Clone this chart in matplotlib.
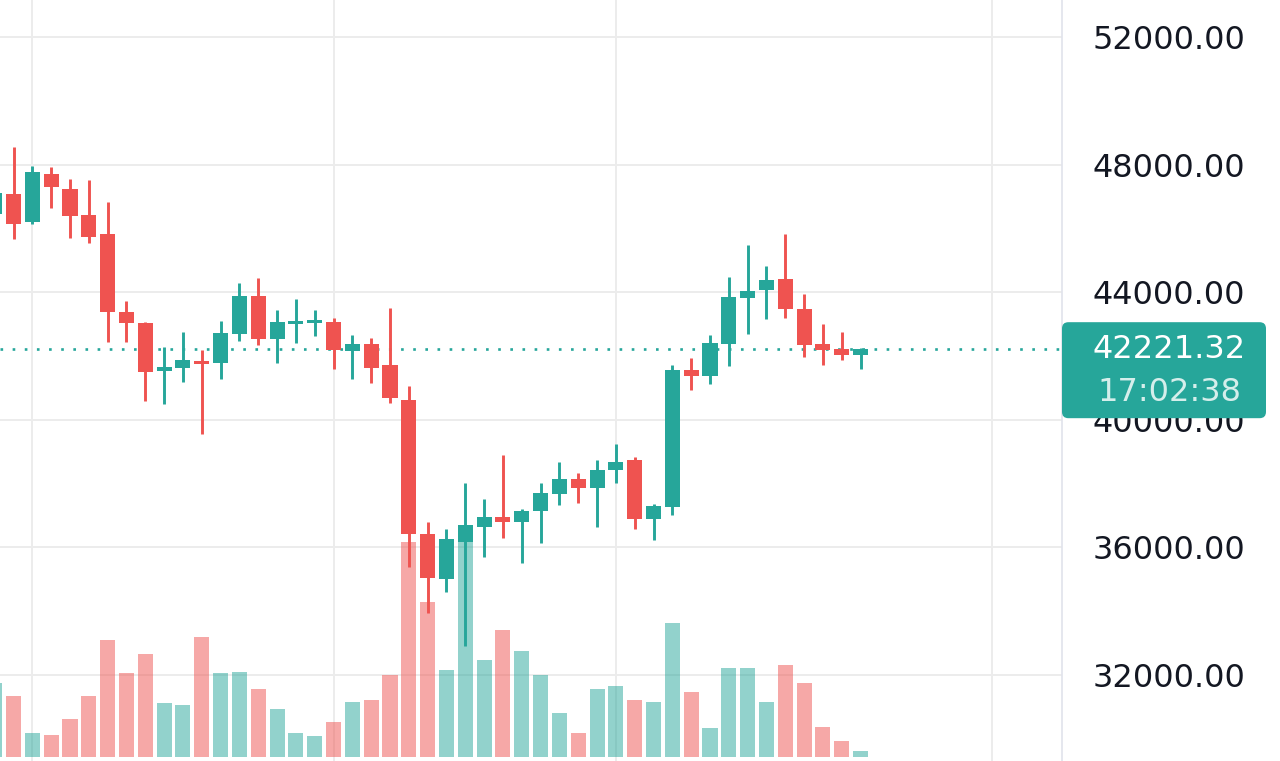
import matplotlib
matplotlib.use('Agg')
import matplotlib.pyplot as plt
import matplotlib.transforms as mtransforms
from matplotlib.patches import FancyBboxPatch
import numpy as np

# candle data (index -1 is the partly hidden candle at the left edge)
idx = list(range(-1, 46))
opens = [46463, 47081, 46202, 47718, 47256, 46422, 45826, 43398, 43052, 41547,
         41641, 41860, 41779, 42689, 43899, 42532, 43002, 43034, 43065, 42174,
         42375, 41725, 40627, 36414, 35002, 36182, 36633, 36947, 36790, 37145,
         37678, 38139, 37876, 38431, 38745, 36884, 37280, 41569, 41390, 42394,
         43818, 44069, 44414, 43473, 42384, 42218, 42039]
highs = [47216, 48555, 47969, 47950, 47561, 47520, 46830, 43743, 43084, 42281,
         42761, 42196, 43106, 44289, 44445, 43451, 43787, 43451, 43190, 42657,
         42563, 43504, 41067, 36809, 36571, 38014, 37512, 38902, 37198, 38014,
         38692, 38346, 38745, 39247, 38848, 37365, 41710, 41954, 42667, 44496,
         45490, 44841, 45826, 43953, 43012, 42770, 42250]
lows = [46400, 45669, 46150, 46641, 45700, 45562, 42437, 42437, 40605, 40502,
        41201, 39561, 41286, 42488, 42353, 41779, 42406, 42635, 41590, 41286,
        41151, 40543, 35379, 33954, 34594, 32910, 35692, 36288, 35504, 36150,
        37333, 37386, 36633, 38033, 36571, 36235, 37019, 40941, 41139, 41694,
        42689, 43169, 43209, 41986, 41725, 41882, 41600]
closes = [47122, 46149, 47771, 47300, 46400, 45751, 43379, 43034, 41496, 41672,
          41882, 41757, 42720, 43899, 42532, 43065, 43115, 43115, 42196, 42375,
          41641, 40681, 36423, 35052, 36276, 36706, 36947, 36790, 37154, 37700,
          38139, 37876, 38431, 38692, 36884, 37302, 41569, 41390, 42406, 43849,
          44047, 44392, 43473, 42353, 42196, 42039, 42221.32]
volumes = [74, 61, 24, 22, 38, 61, 117, 84, 103, 54,
           52, 120, 84, 85, 68, 48, 24, 21, 35, 55,
           57, 82, 215, 155, 87, 215, 97, 127, 106, 82,
           44, 24, 68, 71, 57, 55, 134, 65, 29, 89,
           89, 55, 92, 74, 30, 16, 6]

price_ticks = [32000, 36000, 40000, 44000, 48000, 52000]
date_lines = [1, 17, 32, 52]
last_price = 42221.32
last_time = '17:02:38'

up_color = '#26a69a'
down_color = '#ef5350'
grid_color = '#ececec'

fig = plt.figure(figsize=(12.8, 7.61), dpi=100)
ax_v = fig.add_axes([0, 0, 1062 / 1280, 1])
ax = ax_v.twinx()
ax.set_zorder(ax_v.get_zorder() + 1)
ax.patch.set_visible(False)

ymin, ymax = 29302, 53176
ax.set_ylim(ymin, ymax)
ax.set_xlim(-0.72, 55.7)
ax_v.set_ylim(-4, 757)

# grid (behind the volume bars)
grid_tr = mtransforms.blended_transform_factory(ax_v.transAxes, ax.transData)
for p in price_ticks:
    ax_v.plot([0, 1], [p, p], color=grid_color, lw=1.4, transform=grid_tr, zorder=0)
for d in date_lines:
    ax_v.axvline(d, color=grid_color, lw=1.4, zorder=0)

# volume
vol_colors = [up_color if c >= o else down_color for o, c in zip(opens, closes)]
ax_v.bar(idx, volumes, width=0.8, color=vol_colors, alpha=0.5, zorder=1)

# candles
colors = vol_colors
body_bottom = [min(o, c) for o, c in zip(opens, closes)]
body_height = [max(abs(c - o), 90) for o, c in zip(opens, closes)]
ax.vlines(idx, lows, highs, colors=colors, lw=2.1, zorder=3)
ax.bar(idx, body_height, bottom=body_bottom, width=0.8, color=colors, zorder=4)

# last price line
ax.axhline(last_price, color=up_color, lw=1.9, linestyle=(0, (1, 3.6)), zorder=2)

# axes styling
for side in ['top', 'left', 'bottom']:
    ax.spines[side].set_visible(False)
    ax_v.spines[side].set_visible(False)
ax_v.spines['right'].set_visible(False)
ax.spines['right'].set_color('#e0e3eb')
ax.spines['right'].set_linewidth(1.2)
ax_v.set_xticks([])
ax_v.set_yticks([])
ax.set_xticks([])
ax.set_yticks(price_ticks)
ax.set_yticklabels([f'{p:.2f}' for p in price_ticks])
ax.tick_params(axis='y', length=0, pad=22, labelsize=23, labelcolor='#131722')

# last price badge
px = (ymax - ymin) / 761
badge_tr = mtransforms.blended_transform_factory(ax.transAxes, ax.transData)
box = FancyBboxPatch((1.0, last_price - 69 * px), 204 / 1062, 96 * px,
                     boxstyle='round,pad=0,rounding_size=0.006',
                     transform=badge_tr, facecolor=up_color, edgecolor='none',
                     clip_on=False, zorder=10, mutation_aspect=px * 1062)
ax.add_patch(box)
ax.text(1169 / 1062, last_price, f'{last_price:.2f}', transform=badge_tr,
        ha='center', va='center', fontsize=23, color='white', clip_on=False,
        zorder=11)
ax.text(1169 / 1062, last_price - 43 * px, last_time, transform=badge_tr,
        ha='center', va='center', fontsize=23, color='#d5eeeb', clip_on=False,
        zorder=11)

fig.savefig('out.png', dpi=100)
